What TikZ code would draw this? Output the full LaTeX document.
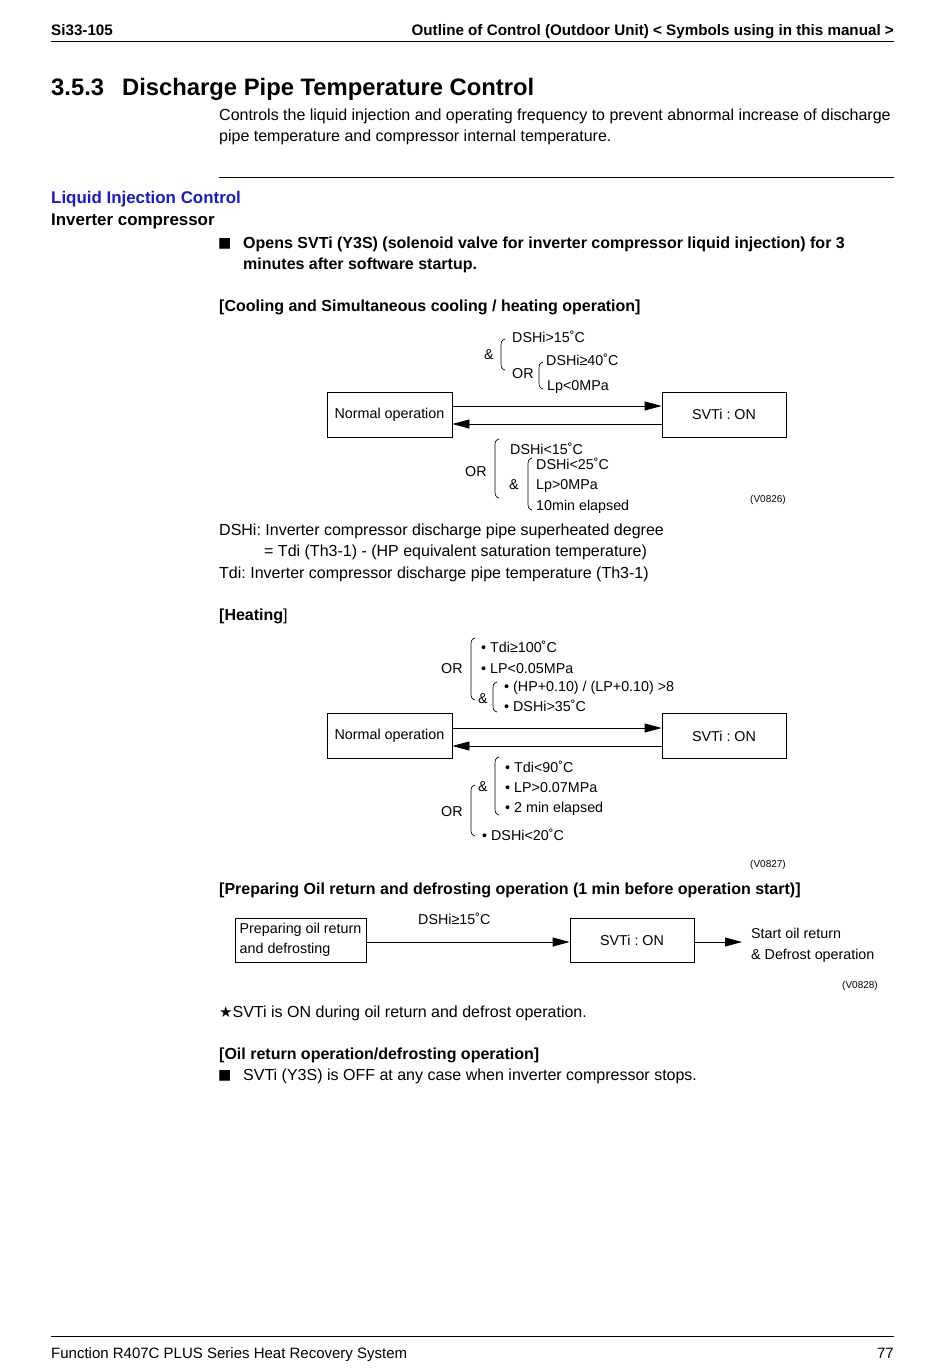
\documentclass[tikz,border=0pt]{standalone}
\usepackage{fontspec}
\setmainfont{Liberation Sans}
\newfontfamily\dejavu{DejaVu Sans}
\usetikzlibrary{arrows.meta}
\definecolor{hdblue}{RGB}{25,25,205}
\frenchspacing
\newcommand\mybrace[3]{\draw[brc] (#1+4,#2) .. controls (#1+0.5,#2+1) and (#1,#2+3) .. (#1,#2+7) -- (#1,#3-7) .. controls (#1,#3-3) and (#1+0.5,#3-1) .. (#1+4,#3);}
\begin{document}
\begin{tikzpicture}[x=1pt,y=-1pt,
  t/.style={anchor=west, inner sep=0pt, text height=0.72em, text depth=0pt},
  hd/.style={t, yshift=-2pt, font=\bfseries\fontsize{15.2}{17}\selectfont},
  body/.style={t, yshift=-3pt, font=\fontsize{16}{20}\selectfont},
  bbody/.style={t, yshift=-3pt, font=\bfseries\fontsize{16}{20}\selectfont},
  dg/.style={t, yshift=-2pt, font=\fontsize{14.3}{17}\selectfont},
  vno/.style={t, yshift=-2pt, font=\fontsize{10}{12}\selectfont},
  box/.style={draw, line width=0.8pt, minimum width=125pt, minimum height=45pt, inner sep=0pt, font=\fontsize{14.3}{17}\selectfont},
  brc/.style={line width=0.7pt},
  rule/.style={line width=0.8pt},
  arr/.style={line width=0.8pt, -{Triangle[length=17pt,width=9pt]}},
]
\useasboundingbox (0,0) rectangle (950,1370);
\fill[white] (0,0) rectangle (950,1370);

% header
\node[hd] (hl) at (51,30) {Si33-105};
\node[hd, anchor=east] (hr) at (894,30) {Outline of Control (Outdoor Unit) < Symbols using in this manual >};
\draw[rule] (51,41) -- (894,41);

% title
\node[t, yshift=-5pt, font=\bfseries\fontsize{23.8}{28}\selectfont] (ttl) at (51,87) {3.5.3\hspace{18pt}Discharge Pipe Temperature Control};
\node[body] (p1) at (219,114) {Controls the liquid injection and operating frequency to prevent abnormal increase of discharge};
\node[body] (p2) at (219,135) {pipe temperature and compressor internal temperature.};
\draw[rule] (219,177) -- (894,177);

\node[t, yshift=-3pt, font=\bfseries\fontsize{16.9}{20}\selectfont, text=hdblue] (lic) at (51,197) {Liquid Injection Control};
\node[t, yshift=-3pt, font=\bfseries\fontsize{16.9}{20}\selectfont] (ic) at (51,219) {Inverter compressor};
\node[t, yshift=-2pt, font=\dejavu\fontsize{14}{15}\selectfont] (sq1) at (218,242) {■};
\node[bbody] (b1a) at (243,242) {Opens SVTi (Y3S) (solenoid valve for inverter compressor liquid injection) for 3};
\node[bbody] (b1b) at (243,263) {minutes after software startup.};
\node[bbody] (h1) at (219,305) {[Cooling and Simultaneous cooling / heating operation]};

% diagram 1
\node[box] (n1) at (389.5,414.5) {Normal operation};
\node[box, minimum width=124pt] (s1) at (724,414.5) {SVTi : ON};
\draw[arr] ([yshift=8.5pt]n1.east) -- ([yshift=8.5pt]s1.west);
\draw[arr] ([yshift=-9.5pt]s1.west) -- ([yshift=-9.5pt]n1.east);

\node[dg] (a1) at (512,337) {DSHi>15˚C};
\node[dg] (a2) at (484,354) {\&};
\mybrace{501}{339}{370}
\node[dg] (a3) at (546,360) {DSHi≥40˚C};
\node[dg] (a4) at (512,373) {OR};
\mybrace{539}{362}{389}
\node[dg] (a5) at (547,385) {Lp<0MPa};

\node[dg] (c1) at (510,449) {DSHi<15˚C};
\node[dg] (c2) at (465,471) {OR};
\mybrace{495}{439}{498}
\node[dg] (c3) at (536,464) {DSHi<25˚C};
\node[dg] (c4) at (509,484) {\&};
\mybrace{528}{458}{510}
\node[dg] (c5) at (536,484) {Lp>0MPa};
\node[dg] (c6) at (536,505) {10min elapsed};
\node[vno] (v1) at (750,497) {(V0826)};

\node[body] (d1) at (219,529) {DSHi: Inverter compressor discharge pipe superheated degree};
\node[body] (d2) at (264,550) {= Tdi (Th3-1) - (HP equivalent saturation temperature)};
\node[body] (d3) at (219,572) {Tdi: Inverter compressor discharge pipe temperature (Th3-1)};

\node[body] (h2) at (219,614) {\textbf{[Heating}]};

% diagram 2
\node[box] (n2) at (389.5,736) {Normal operation};
\node[box, minimum width=124pt] (s2) at (724,736) {SVTi : ON};
\draw[arr] ([yshift=8pt]n2.east) -- ([yshift=8pt]s2.west);
\draw[arr] ([yshift=-10pt]s2.west) -- ([yshift=-10pt]n2.east);

\node[dg] (e1) at (441,668) {OR};
\mybrace{471}{638}{700}
\node[dg] (e2) at (481,647) {• Tdi≥100˚C};
\node[dg] (e3) at (481,668) {• LP<0.05MPa};
\node[dg] (e4) at (478,698) {\&};
\mybrace{493}{682}{712}
\node[dg] (e5) at (504,686) {• (HP+0.10) / (LP+0.10) >8};
\node[dg] (e6) at (504,706) {• DSHi>35˚C};

\node[dg] (f1) at (478,786) {\&};
\mybrace{495}{757}{815}
\node[dg] (f2) at (505,767) {• Tdi<90˚C};
\node[dg] (f3) at (505,787) {• LP>0.07MPa};
\node[dg] (f4) at (505,807) {• 2 min elapsed};
\node[dg] (f5) at (441,811) {OR};
\mybrace{471}{785}{836}
\node[dg] (f6) at (482,835) {• DSHi<20˚C};
\node[vno] (v2) at (750,862) {(V0827)};

\node[bbody] (h3) at (219,888) {[Preparing Oil return and defrosting operation (1 min before operation start)]};

% diagram 3
\node[box, minimum width=131pt, minimum height=44pt, align=left, font=\fontsize{14.3}{20}\selectfont] (p3) at (300.5,940) {Preparing oil return\\and defrosting};
\node[box, minimum width=124pt, minimum height=44pt] (s3) at (632,940) {SVTi : ON};
\node[dg] (g1) at (418,919) {DSHi≥15˚C};
\node[anchor=west, inner sep=0pt, align=left, font=\fontsize{14.3}{21}\selectfont] (st) at (751,945) {Start oil return\\\& Defrost operation};
\draw[arr] ([yshift=-2pt]p3.east) -- ([yshift=-2pt]s3.west);
\draw[arr, shorten >=9pt] ([yshift=-2pt]s3.east) -- ([yshift=-2pt]s3.east -| st.west);
\node[vno] (v3) at (842,983) {(V0828)};

\node[body] (n4) at (219,1011) {{\dejavu\fontsize{15}{16}\selectfont ★}SVTi is ON during oil return and defrost operation.};
\node[bbody] (h4) at (219,1053) {[Oil return operation/defrosting operation]};
\node[t, yshift=-2pt, font=\dejavu\fontsize{14}{15}\selectfont] (sq2) at (218,1074) {■};
\node[body] (b2) at (243,1074) {SVTi (Y3S) is OFF at any case when inverter compressor stops.};

% footer
\draw[rule] (51,1336) -- (894,1336);
\node[t, yshift=-2pt, font=\fontsize{15}{18}\selectfont] (ft) at (51,1353) {Function R407C PLUS Series Heat Recovery System};
\node[t, yshift=-2pt, anchor=east, font=\fontsize{15}{18}\selectfont] (pg) at (894,1353) {77};
\end{tikzpicture}
\end{document}
